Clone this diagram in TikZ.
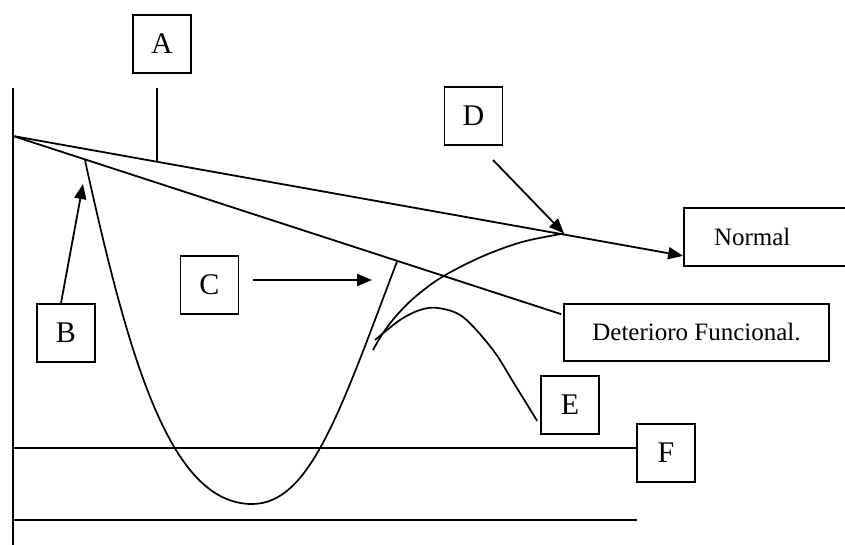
\documentclass[tikz,border=0pt]{standalone}
\usepackage{fontspec}
\setmainfont{Liberation Serif}
\usetikzlibrary{arrows.meta,calc}
\begin{document}
\begin{tikzpicture}[x=1pt,y=-1pt,line width=1.8pt,
  letterbox/.style={draw,line width=1.7pt,minimum width=58pt,minimum height=58pt,inner sep=0pt,font=\fontsize{30}{30}\selectfont},
  labelbox/.style={draw,line width=1.7pt,inner sep=0pt,font=\fontsize{25}{25}\selectfont},
  tip/.style={-{Triangle[length=15pt,width=12pt]}},
  curve/.style={line width=1.7pt}]
\useasboundingbox (0,0) rectangle (845,545);
% boxes
\node[letterbox] (A) at (162,44) {A};
\node[letterbox] (B) at (66,333) {B};
\node[letterbox] (C) at (209.5,285) {C};
\node[letterbox] (D) at (473.5,116) {D};
\node[letterbox] (E) at (570,405) {E};
\node[letterbox] (F) at (666,453) {F};
\node[labelbox,minimum width=166pt,minimum height=58pt,text width=106pt,align=left] (N) at (767,237) {Normal};
\node[labelbox,minimum width=265pt,minimum height=57pt] (DF) at (696.5,332.5) {Deterioro Funcional.};
% coordinates
\coordinate (O) at (13,136);
\coordinate (axTop) at (13,88);
\coordinate (axBot) at (13,550);
\coordinate (Atop) at (157,88);
\coordinate (Ajoin) at (157,161.5);
\coordinate (Dj) at (564,233.5);
\coordinate (Dstart) at (493,160);
\coordinate (Bpk) at (85,160.3);
\coordinate (Umin) at (252,504);
\coordinate (Cpk) at (397,261.5);
\coordinate (Cstart) at (253,280);
\coordinate (Ctip) at (372,280);
\coordinate (Btip) at (83,184);
\coordinate (Fl) at (13,448);
\coordinate (Bl) at (13,520);
\coordinate (Br) at (637,520);
% axis
\draw (axTop) -- (axBot);
% A marker
\draw (Atop) -- (Ajoin);
% Normal line
\draw[tip] (O) -- ($(N.south west)+(0,-11)$);
% Deterioro line
\draw (O) -- ($(DF.north west)+(-2,11)$);
% horizontal lines
\draw (Fl) -- ($(F.west)+(0,-5)$);
\draw (Bl) -- (Br);
% arrows
\draw[tip] ($(B.north)+(-5,0)$) -- (Btip);
\draw[tip] (Cstart) -- (Ctip);
\draw[tip] (Dstart) -- (Dj);
% U curve
\draw[curve] (Bpk) .. controls (129,360) and (170,504) .. (Umin)
  .. controls (310,504) and (340,412) .. (Cpk);
% D curve
\draw[curve] plot[smooth,tension=0.55] coordinates {(373,350) (383,333) (397,315) (415,297) (442,277) (481,257) (522,242) (Dj)};
% E curve
\draw[curve] plot[smooth,tension=0.55] coordinates {(375,340) (400,320) (420,310) (438,308) (463,317) (493,350) (515,385) ($(E.south west)+(-3,-14)$)};
\end{tikzpicture}
\end{document}
